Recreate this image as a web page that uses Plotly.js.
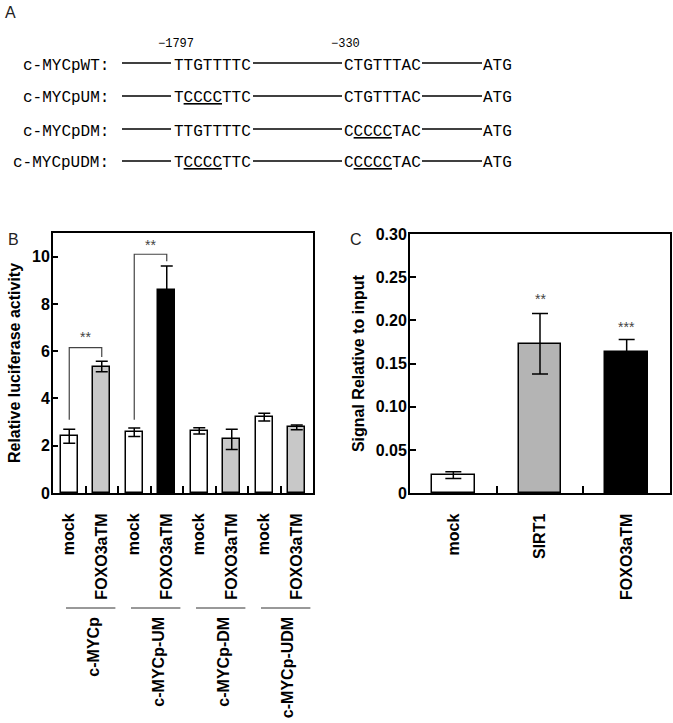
<!DOCTYPE html>
<html>
<head>
<meta charset="utf-8">
<script src="https://cdn.plot.ly/plotly-3.0.1.min.js"></script>
<style>body{margin:0;background:#fff}</style>
</head>
<body>
<div id="fig" style="width:673px;height:723px"></div>
<script>
// panel A: promoter constructs
var promoterNames = ['c-MYCpWT:', 'c-MYCpUM:', 'c-MYCpDM:', 'c-MYCpUDM:'];
var upstreamSite = ['TTGTTTTC', 'T<u>CCCC</u>TTC', 'TTGTTTTC', 'T<u>CCCC</u>TTC'];
var downstreamSite = ['CTGTTTAC', 'CTGTTTAC', 'C<u>CCCC</u>TAC', 'C<u>CCCC</u>TAC'];
var sitePositions = ['\u22121797', '\u2212330'];

// panel B: luciferase assay
var constructs = ['c-MYCp', 'c-MYCp-UM', 'c-MYCp-DM', 'c-MYCp-UDM'];
var treatmentsB = ['mock', 'FOXO3aTM', 'mock', 'FOXO3aTM', 'mock', 'FOXO3aTM', 'mock', 'FOXO3aTM'];
var luciferase = [2.4, 5.35, 2.57, 8.6, 2.63, 2.27, 3.21, 2.78];
var luciferaseErr = [0.3, 0.22, 0.18, 1.0, 0.13, 0.43, 0.16, 0.1];
// brackets: [left bar, right bar, left foot, top, right foot, stars y]
var bracketsB = [[0, 1, 3.1, 6.15, 5.75, 6.6], [2, 3, 3.1, 10.1, 9.8, 10.5]];

// panel C: ChIP
var chipLabels = ['mock', 'SIRT1', 'FOXO3aTM'];
var chipSignal = [0.021, 0.173, 0.164];
var chipErr = [0.004, 0.035, 0.014];
var chipStars = ['', '**', '***'];
var chipStarsY = [0, 0.2245, 0.1925];

var W = 673, H = 723;
function px(x) { return x / W; }
function py(y) { return 1 - y / H; }

var sans = 'Liberation Sans, Arial, sans-serif';
var mono = 'Liberation Mono, Courier New, monospace';
var boldFont = {family: sans, size: 16, color: '#000', weight: 'bold'};
var monoFont = {family: mono, size: 16, color: '#000'};

var colorsB = ['#fff', '#c8c8c8', '#fff', '#000', '#fff', '#c8c8c8', '#fff', '#c8c8c8'];
var colorsC = ['#fff', '#b4b4b4', '#000'];

var xB = treatmentsB.map(function(t, i) { return i; });
var xC = chipLabels.map(function(t, i) { return i; });

var data = [{
	type: 'bar',
	x: xB,
	y: luciferase,
	width: 0.53,
	marker: {color: colorsB, line: {color: '#000', width: 1.5}},
	error_y: {type: 'data', array: luciferaseErr, visible: true, color: '#000', thickness: 1.5, width: 6},
	xaxis: 'x', yaxis: 'y',
	hoverinfo: 'y'
}, {
	type: 'bar',
	x: xC,
	y: chipSignal,
	width: 0.49,
	marker: {color: colorsC, line: {color: '#000', width: 1.5}},
	error_y: {type: 'data', array: chipErr, visible: true, color: '#000', thickness: 1.5, width: 8},
	xaxis: 'x2', yaxis: 'y2',
	hoverinfo: 'y'
}];

var annotations = [];
var shapes = [];

// panel letters
[['A', 3, 12], ['B', 6, 240], ['C', 348, 240]].forEach(function(p) {
	annotations.push({xref: 'paper', yref: 'paper', x: px(p[1]), y: py(p[2]), xanchor: 'left', yanchor: 'middle',
		text: p[0], showarrow: false, font: {family: sans, size: 16, color: '#222'}});
});

// panel A rows
var rowY = [64, 97, 130, 162];
promoterNames.forEach(function(name, i) {
	var y = py(rowY[i] + 1.5);
	annotations.push({xref: 'paper', yref: 'paper', x: px(111), y: y, xanchor: 'right', yanchor: 'middle',
		text: name, showarrow: false, font: monoFont});
	annotations.push({xref: 'paper', yref: 'paper', x: px(172), y: y, xanchor: 'left', yanchor: 'middle',
		text: upstreamSite[i], showarrow: false, font: monoFont});
	annotations.push({xref: 'paper', yref: 'paper', x: px(342), y: y, xanchor: 'left', yanchor: 'middle',
		text: downstreamSite[i], showarrow: false, font: monoFont});
	annotations.push({xref: 'paper', yref: 'paper', x: px(481), y: y, xanchor: 'left', yanchor: 'middle',
		text: 'ATG', showarrow: false, font: monoFont});
	[[122, 171], [253, 342], [422, 482]].forEach(function(seg) {
		shapes.push({type: 'line', xref: 'paper', yref: 'paper', x0: px(seg[0]), x1: px(seg[1]),
			y0: py(rowY[i] - 1), y1: py(rowY[i] - 1), line: {color: '#000', width: 1.5}});
	});
});
[[176, sitePositions[0]], [346, sitePositions[1]]].forEach(function(p) {
	annotations.push({xref: 'paper', yref: 'paper', x: px(p[0]), y: py(44), xanchor: 'center', yanchor: 'middle',
		text: p[1], showarrow: false, font: {family: mono, size: 12, color: '#000'}});
});

// panel B brackets and stars
bracketsB.forEach(function(b) {
	shapes.push({type: 'path', xref: 'x', yref: 'y',
		path: 'M' + b[0] + ',' + b[2] + ' L' + b[0] + ',' + b[3] + ' L' + b[1] + ',' + b[3] + ' L' + b[1] + ',' + b[4],
		line: {color: '#444', width: 1.2}});
	annotations.push({xref: 'x', yref: 'y', x: (b[0] + b[1]) / 2, y: b[5], text: '**', showarrow: false,
		font: {family: sans, size: 14, color: '#444'}});
});

// panel B construct groups
constructs.forEach(function(c, g) {
	shapes.push({type: 'line', xref: 'x', yref: 'paper', x0: 2 * g - 0.1, x1: 2 * g + 1.42,
		y0: py(608), y1: py(608), line: {color: '#333', width: 1}});
	annotations.push({xref: 'x', yref: 'paper', x: 2 * g + 0.72, y: py(615), xanchor: 'center', yanchor: 'top',
		text: c, textangle: -90, showarrow: false, font: boldFont});
});

// panel C stars
chipStars.forEach(function(s, i) {
	if (!s) return;
	annotations.push({xref: 'x2', yref: 'y2', x: i, y: chipStarsY[i], text: s, showarrow: false,
		font: {family: sans, size: 14, color: '#444'}});
});

var axisBase = {
	showline: true, mirror: true, linecolor: '#000', linewidth: 2,
	showgrid: false, zeroline: false, automargin: false, fixedrange: true
};

var layout = {
	width: W, height: H, autosize: false,
	margin: {l: 0, r: 0, t: 0, b: 0},
	paper_bgcolor: '#fff', plot_bgcolor: '#fff',
	showlegend: false,
	bargap: 0,
	xaxis: Object.assign({}, axisBase, {
		domain: [px(53), px(313)], anchor: 'y',
		range: [-0.5, 7.5],
		tickmode: 'array', tickvals: xB, ticktext: treatmentsB,
		ticks: '', tickangle: -90, tickfont: boldFont, ticklabelstandoff: 12,
		minor: {tickvals: [0.5, 1.5, 2.5, 3.5, 4.5, 5.5, 6.5], ticks: 'inside', ticklen: 7, tickwidth: 1.5, tickcolor: '#000'}
	}),
	yaxis: Object.assign({}, axisBase, {
		domain: [py(493), py(233)], anchor: 'x',
		range: [0, 11], dtick: 2, tick0: 0,
		ticks: 'inside', ticklen: 5, tickwidth: 1.5, tickcolor: '#000',
		tickfont: boldFont, ticklabelstandoff: -2,
		title: {text: 'Relative luciferase activity', font: boldFont, standoff: 7}
	}),
	xaxis2: Object.assign({}, axisBase, {
		domain: [px(410), px(670)], anchor: 'y2',
		range: [-0.5, 2.5],
		tickmode: 'array', tickvals: xC, ticktext: chipLabels,
		ticks: '', tickangle: -90, tickfont: boldFont, ticklabelstandoff: 12,
		minor: {tickvals: [0.5, 1.5], ticks: 'inside', ticklen: 7, tickwidth: 1.5, tickcolor: '#000'}
	}),
	yaxis2: Object.assign({}, axisBase, {
		domain: [py(493.3), py(234)], anchor: 'x2',
		range: [0, 0.30],
		tickmode: 'array',
		tickvals: [0, 0.05, 0.10, 0.15, 0.20, 0.25, 0.30],
		ticktext: ['0', '0.05', '0.10', '0.15', '0.20', '0.25', '0.30'],
		ticks: 'inside', ticklen: 6, tickwidth: 1.5, tickcolor: '#000',
		tickfont: boldFont, ticklabelstandoff: -2,
		title: {text: 'Signal Relative to input', font: boldFont, standoff: 7}
	}),
	annotations: annotations,
	shapes: shapes
};

Plotly.newPlot('fig', data, layout, {staticPlot: false, displayModeBar: false});
</script>
</body>
</html>
